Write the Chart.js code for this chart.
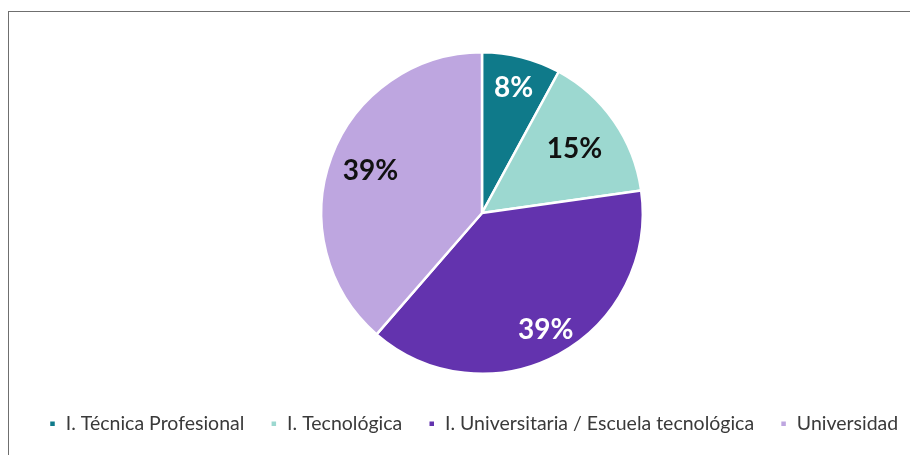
<!DOCTYPE html>
<html>
<head>
<meta charset="utf-8">
<script src="https://cdn.jsdelivr.net/npm/chart.js@4.4.1/dist/chart.umd.min.js"></script>
<style>
  html, body { margin: 0; padding: 0; background: #ffffff; }
  #wrap { position: relative; width: 910px; height: 455px; overflow: hidden; }
  #frame { position: absolute; left: 8px; top: 11px; width: 1000px; height: 1000px;
           border-left: 1px solid #6f6f6f; border-top: 1px solid #6f6f6f; box-sizing: border-box; }
  #c { position: absolute; left: 0; top: 0; }
</style>
</head>
<body>
<div id="wrap">
  <div id="frame"></div>
  <canvas id="c" width="941" height="455"></canvas>
</div>
<script>
const categories = ["I. Técnica Profesional", "I. Tecnológica", "I. Universitaria / Escuela tecnológica", "Universidad"];
const values = [8, 15, 39, 39];
const sliceColors = ["#0F7A8A", "#9CD8D0", "#6333AE", "#BEA6E0"];
const labelColors = ["#ffffff", "#111111", "#ffffff", "#111111"];
const labelRadius = [0.80, 0.70, 0.83, 0.74];

const pieLabels = {
  id: 'pieLabels',
  afterDatasetsDraw(chart) {
    const ctx = chart.ctx;
    const meta = chart.getDatasetMeta(0);
    ctx.save();
    ctx.font = "bold 28px Lato";
    ctx.textAlign = "center";
    ctx.textBaseline = "middle";
    meta.data.forEach((arc, i) => {
      const p = arc.getProps(['x', 'y', 'startAngle', 'endAngle', 'outerRadius'], true);
      const mid = (p.startAngle + p.endAngle) / 2;
      const r = p.outerRadius * labelRadius[i];
      ctx.fillStyle = labelColors[i];
      ctx.fillText(values[i] + "%", p.x + Math.cos(mid) * r, p.y + Math.sin(mid) * r);
    });
    ctx.restore();
  }
};

new Chart(document.getElementById('c'), {
  type: 'pie',
  data: {
    labels: categories,
    datasets: [{
      data: values,
      backgroundColor: sliceColors,
      borderColor: "#ffffff",
      borderWidth: 2.5
    }]
  },
  options: {
    responsive: false,
    animation: false,
    events: [],
    layout: { padding: { top: 51, left: 23, right: 0, bottom: 11.5 } },
    plugins: {
      tooltip: { enabled: false },
      legend: {
        position: 'bottom',
        align: 'start',
        title: { display: true, text: '', font: { size: 1, lineHeight: 1 }, padding: { top: 12, bottom: 0 } },
        labels: {
          boxWidth: 7,
          boxHeight: 7,
          padding: 26,
          color: "#3a3a3a",
          font: { family: "Lato", size: 19.5 }
        }
      }
    }
  },
  plugins: [pieLabels]
});
</script>
</body>
</html>
